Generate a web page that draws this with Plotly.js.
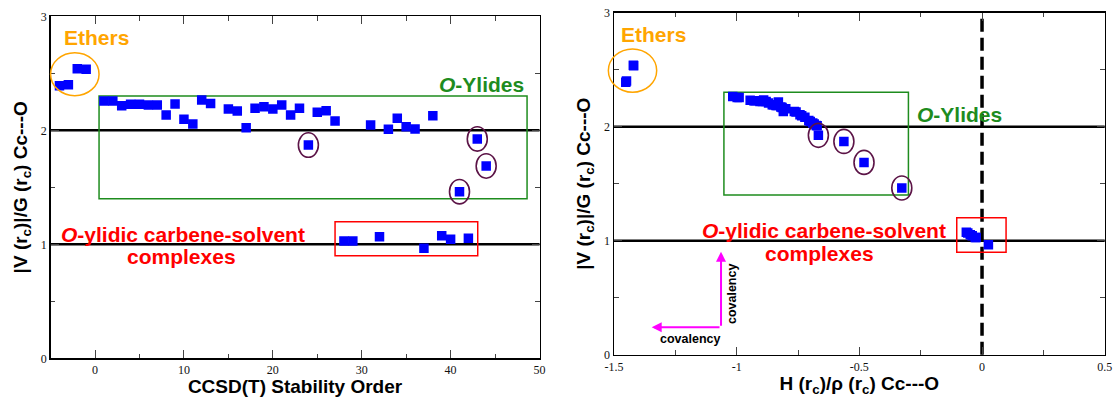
<!DOCTYPE html>
<html>
<head>
<meta charset="utf-8">
<script src="https://cdn.plot.ly/plotly-3.0.1.min.js"></script>
<style>html,body{margin:0;padding:0;background:#fff;}#chart{width:1113px;height:397px;}</style>
</head>
<body>
<div id="chart"></div>
<script>
// ---------- data (left: stability order, right: H/rho) ----------
var ethersOrder = [-4, -3, -2, -1];
var ethersRatio = [2.39, 2.40, 2.54, 2.535];
var ethersHrho  = [-1.452, -1.449, -1.421, -1.420];

var ylidesOrder = [1,2,3,4,5,6,7,8,9,10,11,12,13,15,16,17,18,19,20,21,22,23,24,25,26,27,31,33,34,35,36,38,41,43,44];
var ylidesRatio = [2.257,2.257,2.216,2.228,2.228,2.222,2.222,2.134,2.231,2.096,2.055,2.266,2.234,2.187,2.169,2.023,2.193,2.207,2.187,2.222,2.134,2.193,1.871,2.158,2.172,2.082,2.046,2.009,2.105,2.032,2.011,2.128,1.462,1.924,1.687];
var ylidesHrho  = [-0.998,-0.990,-0.830,-0.925,-0.930,-0.905,-0.895,-0.810,-0.945,-0.735,-0.706,-1.016,-0.890,-0.840,-0.815,-0.684,-0.855,-0.870,-0.835,-0.880,-0.765,-0.850,-0.563,-0.800,-0.820,-0.722,-0.700,-0.672,-0.742,-0.690,-0.676,-0.758,-0.327,-0.667,-0.481];
var circledIdx  = [22, 32, 33, 34];

var complexOrder = [28, 29, 32, 37, 39, 40, 42];
var complexRatio = [1.029, 1.029, 1.067, 0.965, 1.075, 1.044, 1.053];
var complexHrho  = [-0.028, -0.024, -0.058, 0.026, -0.064, -0.040, -0.048];

var rightTickVals = [-1.5, -1, -0.5, 0, 0.5];
var rightTickText = ['-1.5', '-1', '-0.5', '0', '0.5'];

// ---------- styling ----------
var W = 1113, H = 397;
var SANS = 'Liberation Sans, Arial, Helvetica, sans-serif';
var SERIF = 'Liberation Serif, Times New Roman, serif';
var BLUE = '#0000ff', GREEN = 'rgb(30,140,30)', RED = '#ff0000', ORANGE = '#ffa500', PURPLE = '#5c1447', MAGENTA = '#ff00ff';

var xd1 = [50.6 / W, 539.5 / W], yd1 = [(H - 358.3) / H, (H - 16.3) / H];
var xd2 = [614 / W, 1104.7 / W],  yd2 = [(H - 354.7) / H, (H - 12.7) / H];

function toPaperX(v, dom, rng) { return dom[0] + (v - rng[0]) / (rng[1] - rng[0]) * (dom[1] - dom[0]); }

var mk = {symbol: 'square', size: 9.5, color: BLUE, line: {width: 0}};
var allX1 = ethersOrder.concat(ylidesOrder, complexOrder);
var allY1 = ethersRatio.concat(ylidesRatio, complexRatio);
var allX2 = ethersHrho.concat(ylidesHrho, complexHrho);
var allY2 = ethersRatio.concat(ylidesRatio, complexRatio);

var traces = [
  {x: allX1, y: allY1, xaxis: 'x', yaxis: 'y', mode: 'markers', marker: mk, type: 'scatter', hoverinfo: 'none'},
  {x: allX2, y: allY2, xaxis: 'x2', yaxis: 'y2', mode: 'markers', marker: mk, type: 'scatter', hoverinfo: 'none'}
];

function axisBase(dom) {
  return {
    domain: dom, showline: true, linecolor: '#000', linewidth: 1.5, mirror: 'ticks',
    ticks: 'inside', ticklen: 8, tickwidth: 1, tickcolor: '#444',
    showgrid: false, zeroline: false, fixedrange: true,
    tickfont: {family: SERIF, size: 12, color: '#111'}
  };
}

var xaxis = Object.assign(axisBase(xd1), {
  range: [-5, 50], tickmode: 'linear', tick0: 0, dtick: 10,
  minor: {tickmode: 'linear', tick0: 0, dtick: 5, ticks: 'inside', ticklen: 4.5, tickcolor: '#444', showgrid: false},
  title: {text: 'CCSD(T) Stability Order', font: {family: SANS, size: 19, color: '#000', weight: 'bold'}, standoff: 4},
  anchor: 'y'
});
var yaxis = Object.assign(axisBase(yd1), {
  range: [0, 3], tickmode: 'linear', tick0: 0, dtick: 1,
  minor: {tickmode: 'linear', tick0: 0, dtick: 0.5, ticks: 'inside', ticklen: 4.5, tickcolor: '#444', showgrid: false},
  title: {text: '|V (r<sub>c</sub>)|/G (r<sub>c</sub>) Cc---O', font: {family: SANS, size: 19, color: '#000', weight: 'bold'}, standoff: 8},
  anchor: 'x'
});
var xaxis2 = Object.assign(axisBase(xd2), {
  range: [-1.5, 0.5], tickmode: 'array', tickvals: rightTickVals, ticktext: rightTickText,
  minor: {tickmode: 'linear', tick0: -1.5, dtick: 0.25, ticks: 'inside', ticklen: 4.5, tickcolor: '#444', showgrid: false},
  title: {text: 'H (r<sub>c</sub>)/ρ (r<sub>c</sub>) Cc---O', font: {family: SANS, size: 19, color: '#000', weight: 'bold'}, standoff: 4},
  anchor: 'y2'
});
var yaxis2 = Object.assign(axisBase(yd2), {
  range: [0, 3], tickmode: 'linear', tick0: 0, dtick: 1,
  minor: {tickmode: 'linear', tick0: 0, dtick: 0.5, ticks: 'inside', ticklen: 4.5, tickcolor: '#444', showgrid: false},
  title: {text: '|V (r<sub>c</sub>)|/G (r<sub>c</sub>) Cc---O', font: {family: SANS, size: 19, color: '#000', weight: 'bold'}, standoff: 8},
  anchor: 'x2'
});

var shapes = [];
// reference lines
[1, 2].forEach(function (v) {
  shapes.push({type: 'line', xref: 'x domain', yref: 'y', x0: 0, x1: 1, y0: v, y1: v, line: {color: '#000', width: 2.5}, layer: 'below'});
  shapes.push({type: 'line', xref: 'x2 domain', yref: 'y2', x0: 0, x1: 1, y0: v, y1: v, line: {color: '#000', width: 2.5}, layer: 'below'});
});
shapes.push({type: 'line', xref: 'x2', yref: 'y2 domain', x0: 0, x1: 0, y0: 0, y1: 1, line: {color: '#000', width: 3.5, dash: '13px,6px'}, layer: 'below'});
// group boxes
shapes.push({type: 'rect', xref: 'x', yref: 'y', x0: 0.45, x1: 48.6, y0: 1.40, y1: 2.30, line: {color: GREEN, width: 1.5}, layer: 'below'});
shapes.push({type: 'rect', xref: 'x', yref: 'y', x0: 27.0, x1: 43.05, y0: 0.90, y1: 1.198, line: {color: RED, width: 1.5}, layer: 'below'});
shapes.push({type: 'rect', xref: 'x2', yref: 'y2', x0: -1.052, x1: -0.300, y0: 1.40, y1: 2.302, line: {color: GREEN, width: 1.5}, layer: 'below'});
shapes.push({type: 'rect', xref: 'x2', yref: 'y2', x0: -0.103, x1: 0.098, y0: 0.898, y1: 1.202, line: {color: RED, width: 1.5}, layer: 'below'});
// ether ellipses
shapes.push({type: 'circle', xref: 'paper', yref: 'y', x0: toPaperX(-5.0, xd1, [-5, 50]), x1: toPaperX(0.45, xd1, [-5, 50]), y0: 2.304, y1: 2.681, line: {color: ORANGE, width: 1.5}});
shapes.push({type: 'circle', xref: 'paper', yref: 'y2', x0: toPaperX(-1.523, xd2, [-1.5, 0.5]), x1: toPaperX(-1.326, xd2, [-1.5, 0.5]), y0: 2.302, y1: 2.682, line: {color: ORANGE, width: 1.5}});
// circled points
circledIdx.forEach(function (i) {
  shapes.push({type: 'circle', xref: 'x', yref: 'y', xsizemode: 'pixel', ysizemode: 'pixel', xanchor: ylidesOrder[i], yanchor: ylidesRatio[i], x0: -10, x1: 10, y0: -12.2, y1: 12.2, line: {color: PURPLE, width: 1.6}});
  shapes.push({type: 'circle', xref: 'x2', yref: 'y2', xsizemode: 'pixel', ysizemode: 'pixel', xanchor: ylidesHrho[i], yanchor: ylidesRatio[i], x0: -10, x1: 10, y0: -12, y1: 12, line: {color: PURPLE, width: 1.6}});
});

function lbl(xref, yref, x, y, text, color, size, extra) {
  return Object.assign({xref: xref, yref: yref, x: x, y: y, text: text, showarrow: false, xanchor: 'center', yanchor: 'middle',
    font: {family: SANS, size: size, color: color, weight: 'bold'}}, extra || {});
}

var annotations = [
  lbl('x', 'y', 0.11, 2.818, 'Ethers', ORANGE, 21),
  lbl('x2', 'y2', -1.338, 2.809, 'Ethers', ORANGE, 21),
  lbl('x', 'y', 43.5, 2.406, '<i>O</i>-Ylides', GREEN, 21),
  lbl('x2', 'y2', -0.091, 2.103, '<i>O</i>-Ylides', GREEN, 21),
  lbl('x', 'y', 9.94, 1.085, '<i>O</i>-ylidic carbene-solvent', RED, 21),
  lbl('x', 'y', 9.67, 0.895, 'complexes', RED, 21),
  lbl('x2', 'y2', -0.646, 1.093, '<i>O</i>-ylidic carbene-solvent', RED, 21),
  lbl('x2', 'y2', -0.662, 0.885, 'complexes', RED, 21),
  lbl('x2', 'y2', -1.190, 0.142, 'covalency', '#000', 12.5),
  lbl('x2', 'y2', -1.019, 0.532, 'covalency', '#000', 12.5, {textangle: -90}),
  {xref: 'x2', yref: 'y2', axref: 'x2', ayref: 'y2', x: -1.0638, y: 0.9035, ax: -1.0638, ay: 0.240, text: '', showarrow: true, arrowhead: 2, arrowsize: 1, arrowwidth: 2, arrowcolor: MAGENTA, standoff: 0, startstandoff: 0},
  {xref: 'x2', yref: 'y2', axref: 'x2', ayref: 'y2', x: -1.3463, y: 0.240, ax: -1.0638, ay: 0.240, text: '', showarrow: true, arrowhead: 2, arrowsize: 1, arrowwidth: 2, arrowcolor: MAGENTA, standoff: 0, startstandoff: 0}
];

var layout = {
  width: W, height: H, margin: {l: 0, r: 0, t: 0, b: 0}, autosize: false,
  paper_bgcolor: '#fff', plot_bgcolor: '#fff', showlegend: false,
  xaxis: xaxis, yaxis: yaxis, xaxis2: xaxis2, yaxis2: yaxis2,
  shapes: shapes, annotations: annotations
};

Plotly.newPlot('chart', traces, layout, {displayModeBar: false, staticPlot: true});
</script>
</body>
</html>
